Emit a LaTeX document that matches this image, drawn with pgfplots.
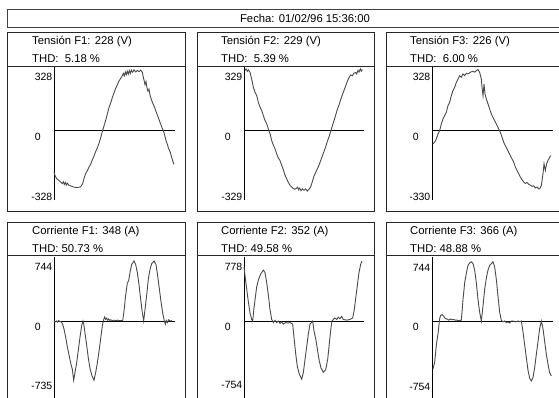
\documentclass[border=0pt]{standalone}
\usepackage{fontspec}
\setmainfont{Liberation Sans}
\usepackage{pgfplots}
\pgfplotsset{compat=1.18}
\definecolor{wavec}{HTML}{4A4A4A}
\pgfplotsset{
  wave/.style={axis x line=none, axis y line=left,
    axis line style={-,black,line width=0.8pt},
    xmin=0, xmax=362, xtick=\empty, major tick length=0pt,
    yticklabel style={anchor=north east, inner sep=0pt, xshift=-1.5pt, yshift=-2pt,
      font=\fontsize{10.5}{10.5}\selectfont},
    x=0.33333pt, clip=false},
  sig/.style={color=wavec, line width=0.9pt, mark=none},
  zl/.style={black, line width=0.8pt, mark=none},
}
\newcommand{\ttl}{\fontsize{11.3}{11.3}\selectfont}
\newcommand{\zr}{0\hphantom{00}}
\begin{document}
\begin{tikzpicture}
\useasboundingbox (0,0) rectangle (559pt,-398pt);
\clip (0,0) rectangle (559pt,-398pt);
\fill[white] (0,0) rectangle (559pt,-398pt);
% top bar
\draw[black!75, line width=0.8pt] (7pt,-9pt) rectangle (575pt,-27pt);
\node[font=\ttl] at (305pt,-18pt) {Fecha: 01/02/96 15:36:00};
% frames
\foreach \xa/\xb in {7/185, 197/374, 386/575} {
  \draw[black!85, line width=0.8pt] (\xa pt,-32pt) rectangle (\xb pt,-211pt);
  \draw[black!85, line width=0.8pt] (\xa pt,-66pt) -- (\xb pt,-66pt);
  \draw[black!85, line width=0.8pt] (\xa pt,-222pt) rectangle (\xb pt,-420pt);
  \draw[black!85, line width=0.8pt] (\xa pt,-255pt) -- (\xb pt,-255pt);
}
% titles
\node[font=\ttl, anchor=west, inner sep=0pt] at (32pt,-42pt) {Tensión F1: 228 (V)};
\node[font=\ttl, anchor=west, inner sep=0pt] at (32pt,-59pt) {THD:\ \ 5.18 \%};
\node[font=\ttl, anchor=west, inner sep=0pt] at (221pt,-42pt) {Tensión F2: 229 (V)};
\node[font=\ttl, anchor=west, inner sep=0pt] at (221pt,-59pt) {THD:\ \ 5.39 \%};
\node[font=\ttl, anchor=west, inner sep=0pt] at (410pt,-42pt) {Tensión F3: 226 (V)};
\node[font=\ttl, anchor=west, inner sep=0pt] at (410pt,-59pt) {THD:\ \ 6.00 \%};
\node[font=\ttl, anchor=west, inner sep=0pt] at (32pt,-232pt) {Corriente F1: 348 (A)};
\node[font=\ttl, anchor=west, inner sep=0pt] at (32pt,-249pt) {THD: 50.73 \%};
\node[font=\ttl, anchor=west, inner sep=0pt] at (221pt,-232pt) {Corriente F2: 352 (A)};
\node[font=\ttl, anchor=west, inner sep=0pt] at (221pt,-249pt) {THD: 49.58 \%};
\node[font=\ttl, anchor=west, inner sep=0pt] at (410pt,-232pt) {Corriente F3: 366 (A)};
\node[font=\ttl, anchor=west, inner sep=0pt] at (410pt,-249pt) {THD: 48.88 \%};

% ---- Tension F1
\begin{axis}[wave, at={(54pt,-200pt)}, anchor=south west, y=0.18293pt, ymin=-380, ymax=347,
  ytick={-328,0,328}, yticklabels={-328,\zr,328}]
\addplot[zl] coordinates {(0,0) (362,0)};
\addplot[sig] coordinates {(0,-228) (3,-246) (8,-264) (15,-273) (20,-282) (25,-290) (28,-280) (31,-295) (34,-284) (37,-298) (40,-288) (45,-300) (52,-304) (60,-310) (70,-312) (80,-308) (86,-290) (90,-262) (95,-235) (100,-220) (105,-200) (110,-185) (115,-160) (120,-140) (125,-115) (130,-95) (135,-70) (140,-40) (145,-5) (150,25) (155,55) (160,90) (165,125) (170,150) (175,180) (180,205) (185,230) (190,250) (195,270) (200,285) (205,300) (208,312) (211,298) (214,320) (217,305) (220,324) (223,308) (226,328) (229,312) (232,330) (236,318) (240,332) (245,320) (250,328) (255,322) (260,330) (265,318) (268,290) (271,268) (273,250) (276,268) (279,232) (282,215) (285,226) (288,195) (292,170) (296,150) (300,135) (305,110) (310,85) (315,60) (320,35) (325,10) (328,0) (332,-25) (336,-55) (340,-75) (344,-100) (348,-115) (352,-140) (356,-165) (360,-185)};
\end{axis}

% ---- Tension F2
\begin{axis}[wave, at={(244pt,-200pt)}, anchor=south west, y=0.18237pt, ymin=-381, ymax=348,
  ytick={-329,0,329}, yticklabels={-329,\zr,329}]
\addplot[zl] coordinates {(0,0) (360,0)};
\addplot[sig] coordinates {(3,329) (6,338) (10,325) (13,333) (18,320) (23,283) (28,238) (33,210) (38,192) (43,155) (48,128) (53,110) (58,82) (63,55) (68,37) (73,10) (78,-18) (83,-55) (88,-80) (93,-100) (98,-128) (103,-150) (108,-165) (113,-190) (118,-215) (123,-245) (128,-265) (133,-285) (138,-300) (143,-310) (148,-318) (153,-322) (158,-316) (161,-310) (164,-325) (167,-316) (171,-330) (175,-320) (180,-328) (185,-320) (190,-332) (195,-322) (200,-310) (205,-280) (210,-250) (215,-230) (220,-210) (225,-190) (230,-165) (235,-140) (240,-115) (245,-90) (250,-60) (255,-35) (260,-5) (265,25) (270,55) (275,85) (280,115) (285,140) (290,170) (295,195) (300,220) (305,245) (310,270) (315,290) (320,305) (325,300) (330,315) (335,318) (338,310) (342,330) (345,320) (349,338) (352,325) (355,335)};
\end{axis}

% ---- Tension F3
\begin{axis}[wave, at={(432pt,-200pt)}, anchor=south west, y=0.18237pt, ymin=-381, ymax=348,
  ytick={-330,0,328}, yticklabels={-330,\zr,328}]
\addplot[zl] coordinates {(0,0) (362,0)};
\addplot[sig] coordinates {(3,-73) (8,-64) (13,-46) (18,-18) (23,0) (28,36) (33,64) (38,82) (43,100) (48,137) (53,155) (58,191) (63,219) (68,237) (73,264) (78,282) (83,301) (88,292) (93,310) (98,301) (103,314) (108,310) (113,317) (118,322) (123,324) (128,320) (133,328) (138,334) (143,319) (148,282) (150,237) (153,191) (156,255) (159,200) (163,173) (168,146) (173,118) (178,91) (185,64) (193,36) (200,9) (205,-10) (210,-36) (215,-64) (220,-82) (225,-100) (230,-120) (235,-137) (240,-155) (245,-173) (250,-200) (255,-219) (260,-237) (265,-255) (270,-270) (275,-282) (280,-290) (285,-285) (290,-295) (295,-300) (300,-306) (305,-303) (310,-315) (315,-310) (320,-320) (323,-319) (328,-301) (333,-237) (336,-182) (340,-219) (344,-182) (348,-164) (356,-137)};
\end{axis}

% ---- Corriente F1
\begin{axis}[wave, at={(54pt,-400pt)}, anchor=south west, y=0.080645pt, ymin=-980, ymax=794,
  ytick={-735,0,744}, yticklabels={-735,\zr,744}]
\addplot[zl] coordinates {(0,0) (362,0)};
\addplot[sig] coordinates {(0,0) (4,-12) (8,0) (11,-15) (14,5) (18,-10) (22,-10) (26,-40) (30,-100) (35,-200) (40,-320) (45,-420) (50,-520) (55,-600) (59,-735) (63,-640) (68,-520) (73,-360) (78,-200) (83,-60) (87,0) (89,-30) (93,-150) (98,-300) (103,-460) (108,-590) (114,-680) (120,-735) (125,-640) (130,-520) (135,-380) (140,-220) (145,-60) (149,15) (152,50) (155,20) (158,35) (161,10) (164,25) (167,5) (170,15) (175,5) (180,10) (186,5) (190,10) (195,5) (206,5) (210,120) (215,320) (220,470) (224,500) (228,600) (233,700) (240,744) (245,700) (250,600) (255,450) (260,270) (265,100) (269,0) (273,140) (278,320) (283,520) (288,640) (293,710) (300,744) (306,700) (311,560) (316,400) (321,240) (326,100) (331,0) (334,-40) (337,5) (340,-20) (344,15) (348,0) (353,5)};
\end{axis}

% ---- Corriente F2
\begin{axis}[wave, at={(244pt,-400pt)}, anchor=south west, y=0.077121pt, ymin=-1024, ymax=830,
  ytick={-754,0,778}, yticklabels={-754,\zr,778}]
\addplot[zl] coordinates {(0,0) (360,0)};
\addplot[sig] coordinates {(0,700) (3,590) (8,420) (13,250) (18,105) (23,20) (26,0) (30,170) (35,340) (38,440) (43,530) (48,590) (53,630) (58,660) (63,630) (68,500) (73,340) (78,150) (83,20) (86,0) (88,-20) (93,8) (98,-20) (103,0) (108,-30) (113,-12) (118,-40) (125,-20) (133,-25) (138,-20) (146,-40) (150,-210) (155,-420) (160,-590) (166,-690) (173,-754) (178,-670) (183,-500) (188,-335) (193,-170) (198,-40) (206,0) (210,-125) (216,-250) (220,-360) (225,-500) (231,-610) (238,-665) (245,-630) (251,-500) (256,-290) (261,-85) (264,0) (268,20) (273,40) (278,20) (283,50) (288,30) (293,60) (298,20) (308,12) (318,20) (326,40) (330,125) (335,290) (340,460) (345,630) (350,735) (354,778)};
\end{axis}

% ---- Corriente F3
\begin{axis}[wave, at={(432pt,-400pt)}, anchor=south west, y=0.079576pt, ymin=-993, ymax=804,
  ytick={-754,0,744}, yticklabels={-754,\zr,744}]
\addplot[zl] coordinates {(0,0) (362,0)};
\addplot[sig] coordinates {(3,-600) (8,-520) (13,-300) (18,-160) (23,30) (26,70) (30,80) (35,60) (40,30) (45,25) (50,10) (55,25) (60,15) (65,20) (70,10) (75,10) (80,5) (88,10) (93,270) (98,480) (103,600) (108,700) (113,730) (118,744) (123,720) (128,640) (133,480) (138,270) (143,110) (148,0) (153,190) (158,400) (163,540) (168,640) (173,700) (178,720) (183,744) (188,680) (193,520) (198,310) (203,110) (208,8) (213,-10) (218,0) (223,-20) (228,-10) (233,-25) (238,0) (243,0) (248,-10) (253,-10) (258,0) (263,-10) (268,0) (273,-135) (278,-300) (283,-460) (288,-620) (293,-720) (298,-754) (303,-710) (308,-585) (313,-420) (318,-260) (323,-95) (328,0) (333,-95) (338,-260) (343,-420) (348,-540) (353,-650) (358,-690)};
\end{axis}
\end{tikzpicture}
\end{document}
